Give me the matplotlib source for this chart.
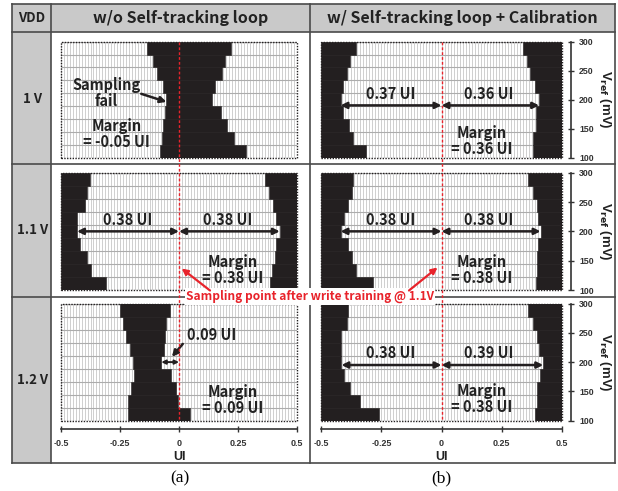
import matplotlib
matplotlib.use('Agg')
import matplotlib.pyplot as plt
import matplotlib.transforms as mtrans
from matplotlib.patches import Rectangle
import numpy as np

# shmoo rows (top -> bottom), 9 Vref steps between 100 and 300 mV
vref_edges = np.linspace(100, 300, 10)
row_mid = ((vref_edges[:-1] + vref_edges[1:]) / 2)[::-1]
row_h = vref_edges[1] - vref_edges[0]

# (a) w/o self-tracking loop
a_1v_fail_lo = [-0.134, -0.111, -0.094, -0.069, -0.056, -0.058, -0.069, -0.073, -0.082]
a_1v_fail_hi = [0.219, 0.194, 0.182, 0.151, 0.140, 0.177, 0.205, 0.232, 0.286]
a_11v_pass_lo = [-0.378, -0.390, -0.400, -0.432, -0.432, -0.418, -0.390, -0.371, -0.311]
a_11v_pass_hi = [0.363, 0.381, 0.398, 0.413, 0.427, 0.413, 0.406, 0.392, 0.387]
a_12v_fail_lo = [-0.248, -0.237, -0.226, -0.209, -0.197, -0.192, -0.202, -0.216, -0.216]
a_12v_fail_hi = [-0.039, -0.053, -0.061, -0.065, -0.075, -0.032, -0.011, -0.004, 0.048]

# (b) w/ self-tracking loop + calibration
b_1v_pass_lo = [-0.354, -0.379, -0.395, -0.409, -0.420, -0.409, -0.384, -0.368, -0.312]
b_1v_pass_hi = [0.339, 0.354, 0.367, 0.388, 0.406, 0.395, 0.392, 0.379, 0.379]
b_11v_pass_lo = [-0.368, -0.374, -0.389, -0.406, -0.420, -0.389, -0.374, -0.354, -0.287]
b_11v_pass_hi = [0.360, 0.381, 0.398, 0.402, 0.412, 0.402, 0.398, 0.398, 0.392]
b_12v_pass_lo = [-0.389, -0.395, -0.416, -0.416, -0.416, -0.406, -0.379, -0.340, -0.261]
b_12v_pass_hi = [0.358, 0.379, 0.398, 0.406, 0.423, 0.409, 0.398, 0.398, 0.388]

ui_ticks = [-0.5, -0.25, 0, 0.25, 0.5]
ui_ticklabels = ['-0.5', '-0.25', '0', '0.25', '0.5']
vref_ticks = [100, 150, 200, 250, 300]

col_titles = ['w/o Self-tracking loop', 'w/ Self-tracking loop + Calibration']
row_titles = ['1 V', '1.1 V', '1.2 V']

BLK = '#231f20'
RED = '#e8232b'
LINE = '#4a4a4a'
GRAY = '#c9c9c9'
SANS = ['Noto Sans CJK KR', 'DejaVu Sans']

W, H = 618, 491
fig = plt.figure(figsize=(W / 100, H / 100), dpi=100)


def px_axes(x0, y0, x1, y1, z=1):
    return fig.add_axes([x0 / W, 1 - y1 / H, (x1 - x0) / W, (y1 - y0) / H], zorder=z)


# table background
bg = px_axes(0, 0, W, H, z=0)
bg.set_xlim(0, W)
bg.set_ylim(H, 0)
bg.axis('off')
L, R, T, B = 11.7, 615, 4, 463.3
xc1, xc2 = 50.7, 310
yr = [31.7, 164, 296.7]
bg.add_patch(Rectangle((L, T), R - L, yr[0] - T, color=GRAY, lw=0))
bg.add_patch(Rectangle((L, yr[0]), xc1 - L, B - yr[0], color=GRAY, lw=0))
for y in [T] + yr + [B]:
    bg.plot([L, R], [y, y], color=LINE, lw=1.2, solid_capstyle='projecting')
for x in [L, xc1, xc2, R]:
    bg.plot([x, x], [T, B], color=LINE, lw=1.2, solid_capstyle='projecting')

bg.text((L + xc1) / 2, 18, 'VDD', ha='center', va='center', fontsize=9.5,
        fontweight='bold', family=SANS, color='#222222')
bg.text((xc1 + xc2) / 2, 18, col_titles[0], ha='center', va='center', fontsize=11.5,
        fontweight='bold', family=SANS, color='#222222')
bg.text((xc2 + R) / 2, 18, col_titles[1], ha='center', va='center', fontsize=11.5,
        fontweight='bold', family=SANS, color='#222222')
for yc, lab in zip([99, 230, 380], row_titles):
    bg.text((L + xc1) / 2 + 1, yc, lab, ha='center', va='center', fontsize=9.5,
            fontweight='bold', family=SANS, color='#222222')
bg.text(180, 478, '(a)', ha='center', va='center', fontsize=12.5, family='Liberation Serif')
bg.text(441, 478, '(b)', ha='center', va='center', fontsize=12.5, family='Liberation Serif')

# panel boxes in pixels
col_x = [(61, 297), (321.3, 561.7)]
row_y = [(41.7, 157.5), (172.7, 290), (303.5, 420.7)]


def shmoo(ax, lo, hi, center_fail):
    ax.set_xlim(-0.5, 0.5)
    ax.set_ylim(100, 300)
    ax.vlines(np.arange(-0.5, 0.5, 1 / 80), 100, 300, color='#c8c8c8', lw=0.6, zorder=1)
    ax.hlines(vref_edges, -0.5, 0.5, color='#acacac', lw=0.8, zorder=1)
    lo = np.array(lo)
    hi = np.array(hi)
    kw = dict(height=row_h, color=BLK, edgecolor=BLK, lw=0.4, zorder=2)
    if center_fail:
        ax.barh(row_mid, hi - lo, left=lo, **kw)
    else:
        ax.barh(row_mid, lo + 0.5, left=-0.5, **kw)
        ax.barh(row_mid, 0.5 - hi, left=hi, **kw)
    for s in ax.spines.values():
        s.set_visible(False)
    ax.add_patch(Rectangle((0, 0), 1, 1, transform=ax.transAxes, fill=False,
                           ec=BLK, lw=1.0, ls=(0, (1, 1)), zorder=3, clip_on=False))
    ax.set_xticks([])
    ax.set_yticks([])


def label(ax, x, y, s, size=10.5, ha='center'):
    ax.text(x, y, s, ha=ha, va='center', fontsize=size, fontweight='bold',
            family=SANS, color='#222222', linespacing=1.0, zorder=5)


def dbl_arrow(ax, x0, x1, y, ms=9, lw=1.8):
    ax.annotate('', xy=(x1, y), xytext=(x0, y),
                arrowprops=dict(arrowstyle='<|-|>', color=BLK, lw=lw,
                                mutation_scale=ms, shrinkA=0, shrinkB=0), zorder=5)


panels = [[None] * 2 for _ in range(3)]
for r in range(3):
    for c in range(2):
        (x0, x1), (y0, y1) = col_x[c], row_y[r]
        panels[r][c] = px_axes(x0, y0, x1, y1, z=1)

shmoo(panels[0][0], a_1v_fail_lo, a_1v_fail_hi, True)
shmoo(panels[1][0], a_11v_pass_lo, a_11v_pass_hi, False)
shmoo(panels[2][0], a_12v_fail_lo, a_12v_fail_hi, True)
shmoo(panels[0][1], b_1v_pass_lo, b_1v_pass_hi, False)
shmoo(panels[1][1], b_11v_pass_lo, b_11v_pass_hi, False)
shmoo(panels[2][1], b_12v_pass_lo, b_12v_pass_hi, False)

# (a) 1 V
ax = panels[0][0]
label(ax, -0.308, 212, 'Sampling\nfail')
ax.annotate('', xy=(-0.053, 196), xytext=(-0.16, 210),
            arrowprops=dict(arrowstyle='-|>', color=BLK, lw=1.8, mutation_scale=9,
                            shrinkA=0, shrinkB=0), zorder=5)
label(ax, -0.265, 140, 'Margin\n= -0.05 UI')

# (a) 1.1 V
ax = panels[1][0]
dbl_arrow(ax, a_11v_pass_lo[4], 0, 200)
dbl_arrow(ax, 0, a_11v_pass_hi[4], 200)
label(ax, -0.216, 220, '0.38 UI')
label(ax, 0.208, 220, '0.38 UI')
label(ax, 0.228, 134, 'Margin\n= 0.38 UI')

# (a) 1.2 V
ax = panels[2][0]
dbl_arrow(ax, a_12v_fail_hi[4], 0, 200, ms=6, lw=1.4)
label(ax, 0.033, 246, '0.09 UI', ha='left')
ax.annotate('', xy=(-0.03, 209), xytext=(0.016, 231),
            arrowprops=dict(arrowstyle='-|>', color=BLK, lw=1.8, mutation_scale=9,
                            shrinkA=0, shrinkB=0), zorder=5)
label(ax, 0.229, 135, 'Margin\n= 0.09 UI')

# (b) panels
b_sets = [(b_1v_pass_lo, b_1v_pass_hi, 190, 210, 128, '0.37 UI', '0.36 UI', '0.36 UI'),
          (b_11v_pass_lo, b_11v_pass_hi, 200, 220, 134, '0.38 UI', '0.38 UI', '0.38 UI'),
          (b_12v_pass_lo, b_12v_pass_hi, 195, 216, 137, '0.38 UI', '0.39 UI', '0.38 UI')]
for r, (lo, hi, ya, yt, ym, tl, tr, tm) in enumerate(b_sets):
    ax = panels[r][1]
    dbl_arrow(ax, lo[4], 0, ya)
    dbl_arrow(ax, 0, hi[4], ya)
    label(ax, -0.212, yt, tl)
    label(ax, 0.197, yt, tr)
    label(ax, 0.166, ym, 'Margin\n= ' + tm)

# right Vref axes for (b)
for r in range(3):
    ax = panels[r][1]
    ax.spines['right'].set_visible(True)
    ax.spines['right'].set_position(('outward', 7))
    ax.spines['right'].set_color('#333333')
    ax.spines['right'].set_linewidth(1.2)
    ax.yaxis.tick_right()
    ax.set_yticks(vref_ticks)
    ax.tick_params(axis='y', direction='inout', length=5, width=1, color='#333333',
                   labelsize=6.3, pad=3)
    for t in ax.get_yticklabels():
        t.set_fontweight('bold')
        t.set_family('Liberation Sans')
        t.set_color('#333333')
    ax.yaxis.set_label_position('right')
    ax.set_ylabel('V$_{\\mathbf{ref}}$ (mV)', rotation=270, fontsize=9.5, fontweight='bold',
                  family='Liberation Sans', color='#222222', ha='center', va='center')
    ax.yaxis.set_label_coords(1.18, 0.5)

# bottom UI axes
for c in range(2):
    ax = panels[2][c]
    ax.spines['bottom'].set_visible(True)
    ax.spines['bottom'].set_position(('outward', 6))
    ax.spines['bottom'].set_color('#333333')
    ax.spines['bottom'].set_linewidth(1.2)
    ax.set_xticks(ui_ticks)
    ax.set_xticklabels(ui_ticklabels)
    ax.tick_params(axis='x', direction='inout', length=5, width=1, color='#333333',
                   labelsize=6.5, pad=5)
    for t in ax.get_xticklabels():
        t.set_fontweight('bold')
        t.set_family('Liberation Sans')
        t.set_color('#333333')
    ax.set_xlabel('UI', fontsize=9, fontweight='bold', family='Liberation Sans',
                  color='#222222', labelpad=2)

# sampling point line and note
fg = px_axes(0, 0, W, H, z=10)
fg.set_xlim(0, W)
fg.set_ylim(H, 0)
fg.axis('off')
for c in range(2):
    tr = mtrans.blended_transform_factory(panels[0][c].transData, fg.transData)
    fg.plot([0, 0], [row_y[0][0], row_y[2][1]], transform=tr, color=RED, lw=1.0,
            ls=(0, (2, 1.5)))
fg.text(310, 296.5, 'Sampling point after write training @ 1.1V', ha='center', va='center',
        fontsize=8.6, fontweight='bold', family=SANS, color=RED,
        bbox=dict(boxstyle='square,pad=0.12', fc='white', ec='none'))
fg.annotate('', xy=(181.7, 268.5), xytext=(210, 290.5),
            arrowprops=dict(arrowstyle='-|>', color=RED, lw=1.6, mutation_scale=9,
                            shrinkA=0, shrinkB=0))
fg.annotate('', xy=(437.5, 267.5), xytext=(409, 290.5),
            arrowprops=dict(arrowstyle='-|>', color=RED, lw=1.6, mutation_scale=9,
                            shrinkA=0, shrinkB=0))

fig.savefig('out.png', dpi=100)
